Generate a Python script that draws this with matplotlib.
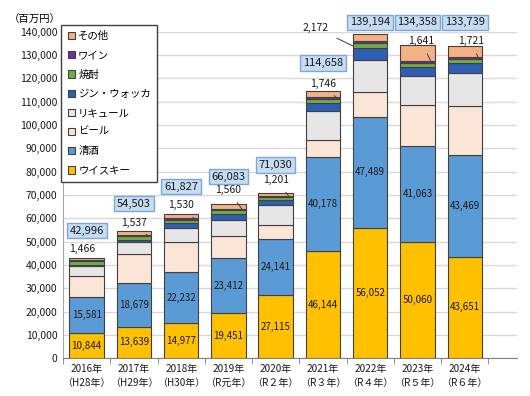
import numpy as np
import matplotlib.pyplot as plt
from matplotlib.ticker import FuncFormatter, FixedLocator

plt.rcParams['font.family'] = ['Noto Sans CJK JP', 'DejaVu Sans']

# 酒類輸出金額（百万円）
years = ['2016年\n（H28年）', '2017年\n（H29年）', '2018年\n（H30年）',
         '2019年\n（R元年）', '2020年\n（R２年）', '2021年\n（R３年）',
         '2022年\n（R４年）', '2023年\n（R５年）', '2024年\n（R６年）']
whisky = [10844, 13639, 14977, 19451, 27115, 46144, 56052, 50060, 43651]
sake = [15581, 18679, 22232, 23412, 24141, 40178, 47489, 41063, 43469]
beer = [9000, 12600, 12700, 9600, 6000, 7400, 10500, 17400, 20900]
liqueur = [4200, 5000, 6000, 6700, 8600, 12300, 13700, 12500, 14400]
gin_vodka = [500, 900, 2000, 2800, 1900, 3500, 5100, 3800, 4000]
shochu = [1466, 1537, 1530, 1560, 1201, 1746, 2172, 1641, 1721]
wine = [500, 600, 600, 600, 500, 800, 900, 900, 900]
other = [905, 1548, 1788, 1960, 1573, 2590, 3281, 6994, 4698]
totals = [42996, 54503, 61827, 66083, 71030, 114658, 139194, 134358, 133739]

series = [('ウイスキー', whisky, '#FFC000'),
          ('清酒', sake, '#5B9BD5'),
          ('ビール', beer, '#FBE5D6'),
          ('リキュール', liqueur, '#E7E6E6'),
          ('ジン・ウォッカ', gin_vodka, '#2F5FB3'),
          ('焼酎', shochu, '#70AD47'),
          ('ワイン', wine, '#7030A0'),
          ('その他', other, '#F4B183')]

fig = plt.figure(figsize=(5.3, 3.96), dpi=100)
ax = fig.add_axes([0.119, 0.095, 0.856, 0.825])

x = np.arange(len(years))
bottom = np.zeros(len(years))
handles = []
for name, vals, col in series:
    b = ax.bar(x, vals, 0.73, bottom=bottom, color=col, edgecolor='#404040',
               linewidth=0.8, label=name, zorder=3)
    handles.append(b)
    if name in ('ウイスキー', '清酒'):
        for i, v in enumerate(vals):
            ax.text(x[i], bottom[i] + v / 2, f'{v:,}', ha='center', va='center',
                    fontsize=7, color='#1a1a1a', zorder=4)
    if name == '焼酎':
        shochu_top = bottom + np.array(vals)
    bottom += np.array(vals)

# 合計の箱ラベル
for i, t in enumerate(totals):
    ty = t + 11800 if i < 6 else 144000
    ax.text(x[i], ty, f'{t:,}', ha='center', va='center', fontsize=8,
            color='#1a1a1a', zorder=5, clip_on=False,
            bbox=dict(boxstyle='square,pad=0.25', facecolor='#C6DCF2',
                      edgecolor='#7FA6D6', linewidth=1))

# 焼酎の値（引出線付き）
for i, v in enumerate(shochu):
    if i == 6:
        tx, ty = x[i] - 1.15, 141500
        end = (x[i] - 0.37, shochu_top[i] - v / 2)
    else:
        dx = {0: -0.1, 7: 0.08, 8: 0.13}.get(i, 0.0)
        up = {3: 6000, 4: 5400, 5: 3000}.get(i, 3700)
        if i >= 7:
            up = 136000 - totals[i]
        tx, ty = x[i] + dx, totals[i] + up
        end = (x[i] + 0.3, shochu_top[i])
    ax.annotate(f'{v:,}', xy=end, xytext=(tx, ty), ha='center', va='center',
                fontsize=7.5, color='#1a1a1a', zorder=6, annotation_clip=False,
                arrowprops=dict(arrowstyle='-', color='#404040', lw=0.7,
                                shrinkA=4, shrinkB=0))

ax.set_xlim(-0.5, 9.1)
ax.set_ylim(0, 140000)
ax.set_yticks(np.arange(0, 140001, 10000))
ax.yaxis.set_major_formatter(FuncFormatter(lambda v, p: f'{int(v):,}'))
ax.tick_params(axis='y', length=0, labelsize=7.5, pad=4, colors='#1a1a1a')
ax.grid(axis='y', color='#D9D9D9', linewidth=1, zorder=0)
ax.set_xticks(x)
ax.set_xticklabels(years, fontsize=7.2, color='#1a1a1a', linespacing=1.5)
ax.tick_params(axis='x', length=0, pad=4)
ax.xaxis.set_minor_locator(FixedLocator(np.arange(-0.5, 9.0, 1.0)))
ax.tick_params(axis='x', which='minor', length=4, color='#808080')
for s in ['top', 'right']:
    ax.spines[s].set_visible(False)
ax.spines['left'].set_color('#A6A6A6')
ax.spines['bottom'].set_color('#808080')

fig.text(0.066, 0.95, '（百万円）', ha='center', va='center', fontsize=7.5)

leg = ax.legend(handles[::-1], [s[0] for s in series][::-1],
                loc='upper left', bbox_to_anchor=(0.116, 0.937),
                bbox_transform=fig.transFigure, fontsize=7.5, frameon=True,
                fancybox=False, edgecolor='#404040', framealpha=1,
                handlelength=0.7, handleheight=0.7, handletextpad=0.3,
                labelspacing=0.88, borderpad=0.6, borderaxespad=0)
leg.get_frame().set_linewidth(1)
leg.set_zorder(7)

fig.savefig('out.png', dpi=100, facecolor='white')
